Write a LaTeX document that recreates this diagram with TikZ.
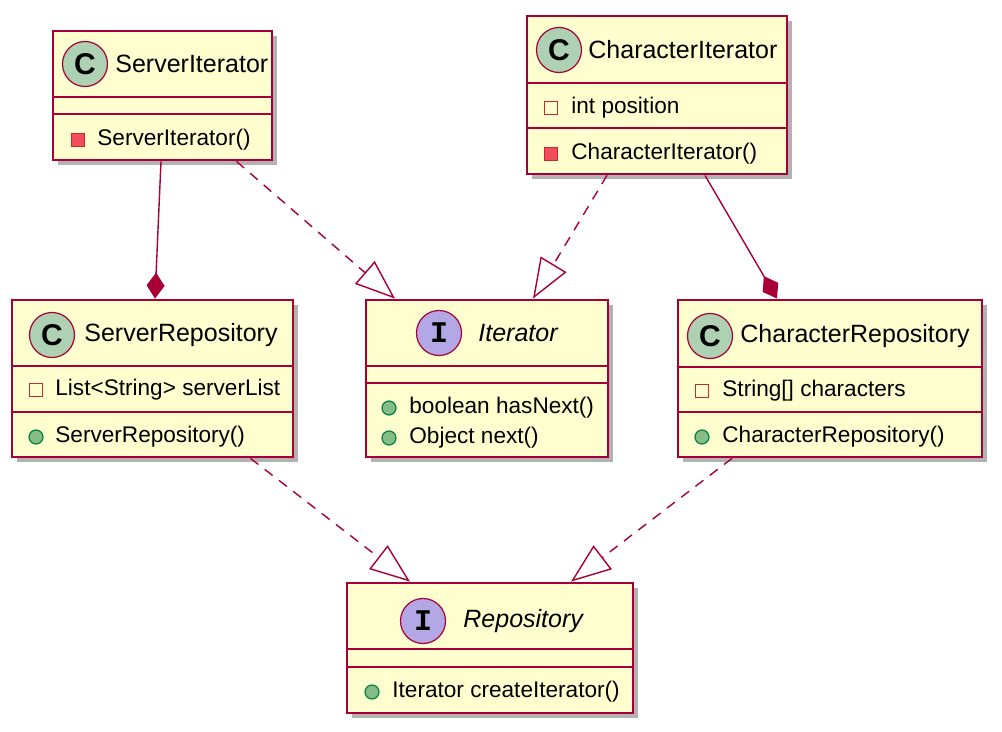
\documentclass[tikz,border=0pt]{standalone}
\usepackage{fontspec}
\setmainfont{Liberation Sans}
\newfontfamily\iconmono{Liberation Mono}
\usetikzlibrary{arrows.meta}
\usetikzlibrary{shadows}
\definecolor{umlborder}{HTML}{A80036}
\definecolor{umlfill}{HTML}{FEFECE}
\definecolor{classicon}{HTML}{ADD1B2}
\definecolor{ifaceicon}{HTML}{B4A7E5}
\definecolor{privline}{HTML}{C82930}
\definecolor{privfill}{HTML}{F24D5C}
\definecolor{publine}{HTML}{038048}
\definecolor{pubfill}{HTML}{84BE84}
\tikzset{
  classbox/.style={rectangle, draw=umlborder, fill=umlfill, line width=1.4pt, inner sep=0pt,
    drop shadow={shadow xshift=2.5pt, shadow yshift=-2.5pt, fill=black, opacity=0.3}},
  sepline/.style={umlborder, line width=1.4pt},
  cicon/.style={circle, draw=umlborder, fill=classicon, line width=0.6pt, minimum size=22.5pt,
    inner sep=0pt, font=\fontsize{15}{16}\selectfont\bfseries},
  iicon/.style={cicon, fill=ifaceicon, font=\fontsize{15}{16}\selectfont\iconmono\bfseries},
  title/.style={anchor=west, inner sep=0pt, font=\fontsize{12.5}{15}\selectfont},
  ititle/.style={title, font=\fontsize{12.5}{15}\selectfont\itshape},
  member/.style={anchor=west, inner sep=0pt, font=\fontsize{11.3}{13}\selectfont},
  privfield/.style={rectangle, draw=privline, fill=umlfill, line width=0.6pt, minimum size=6.5pt, inner sep=0pt},
  privmeth/.style={privfield, fill=privfill},
  pubmeth/.style={circle, draw=publine, fill=pubfill, line width=0.6pt, minimum size=7pt, inner sep=0pt},
  compose/.style={umlborder, line width=0.7pt, -{Diamond[length=13pt, width=9pt]}},
  realize/.style={umlborder, line width=0.7pt, dash pattern=on 5pt off 4pt,
    -{Triangle[open, length=20pt, width=15pt, fill=white]}}
}
\begin{document}
\begin{tikzpicture}[x=0.5pt, y=-0.5pt]
		\useasboundingbox (0,0) rectangle (1002,732);
		% class boxes
		\node[classbox, minimum width=109.5pt, minimum height=64.5pt] (srvIt) at (162.5,95.5) {};
		\node[classbox, minimum width=130pt, minimum height=79pt] (chrIt) at (657,95) {};
		\node[classbox, minimum width=140.5pt, minimum height=78.5pt] (srvRepo) at (152.5,378.5) {};
		\node[classbox, minimum width=121pt, minimum height=78.5pt] (iter) at (487,378.5) {};
		\node[classbox, minimum width=152pt, minimum height=78.5pt] (chrRepo) at (830,378.5) {};
		\node[classbox, minimum width=143pt, minimum height=65pt] (repo) at (490,648) {};
		% separators
		\draw[sepline] (srvIt.west |- 0,97) -- (srvIt.east |- 0,97);
		\draw[sepline] (srvIt.west |- 0,114) -- (srvIt.east |- 0,114);
		\draw[sepline] (chrIt.west |- 0,83) -- (chrIt.east |- 0,83);
		\draw[sepline] (chrIt.west |- 0,128) -- (chrIt.east |- 0,128);
		\draw[sepline] (srvRepo.west |- 0,366) -- (srvRepo.east |- 0,366);
		\draw[sepline] (srvRepo.west |- 0,412) -- (srvRepo.east |- 0,412);
		\draw[sepline] (iter.west |- 0,366) -- (iter.east |- 0,366);
		\draw[sepline] (iter.west |- 0,383) -- (iter.east |- 0,383);
		\draw[sepline] (chrRepo.west |- 0,367) -- (chrRepo.east |- 0,367);
		\draw[sepline] (chrRepo.west |- 0,412) -- (chrRepo.east |- 0,412);
		\draw[sepline] (repo.west |- 0,649) -- (repo.east |- 0,649);
		\draw[sepline] (repo.west |- 0,667) -- (repo.east |- 0,667);
		% headers
		\node[cicon] (srvItIcon) at (85,64) {C};
		\node[title] (srvItName) at (115,64) {ServerIterator};
		\node[cicon] (chrItIcon) at (559,50) {C};
		\node[title] (chrItName) at (588,50) {CharacterIterator};
		\node[cicon] (srvRepoIcon) at (52,335) {C};
		\node[title] (srvRepoName) at (84,335) {ServerRepository};
		\node[iicon] (iterIcon) at (439,333) {I};
		\node[ititle] (iterName) at (478,333) {Iterator};
		\node[cicon] (chrRepoIcon) at (710,336) {C};
		\node[title] (chrRepoName) at (740,336) {CharacterRepository};
		\node[iicon] (repoIcon) at (423,621) {I};
		\node[ititle] (repoName) at (463,621) {Repository};
		% members
		\node[privmeth] (srvItM1) at (78,140) {};
		\node[member] at (97,140) {ServerIterator()};
		\node[privfield] (chrItF1) at (551,108) {};
		\node[member] at (571,108) {int position};
		\node[privmeth] (chrItM1) at (551,154) {};
		\node[member] at (571,154) {CharacterIterator()};
		\node[privfield] (srvRepoF1) at (36,390) {};
		\node[member] at (55,390) {List<String> serverList};
		\node[pubmeth] (srvRepoM1) at (36,437) {};
		\node[member] at (55,437) {ServerRepository()};
		\node[pubmeth] (iterM1) at (389,408) {};
		\node[member] at (409,408) {boolean hasNext()};
		\node[pubmeth] (iterM2) at (389,438) {};
		\node[member] at (409,438) {Object next()};
		\node[privfield] (chrRepoF1) at (702,391) {};
		\node[member] at (722,391) {String[] characters};
		\node[pubmeth] (chrRepoM1) at (702,437) {};
		\node[member] at (722,437) {CharacterRepository()};
		\node[pubmeth] (repoM1) at (372,692) {};
		\node[member] at (392,692) {Iterator createIterator()};
		% relations
		\draw[compose] ([xshift=-0.75pt]srvIt.south) -- ([xshift=1.25pt]srvRepo.north);
		\draw[realize] ([xshift=37pt]srvIt.south) -- ([xshift=-46pt]iter.north);
		\draw[realize] ([xshift=-25pt]chrIt.south) -- ([xshift=23pt]iter.north);
		\draw[compose] ([xshift=24pt]chrIt.south) -- ([xshift=-26.5pt]chrRepo.north);
		\draw[realize] ([xshift=49pt]srvRepo.south) -- ([xshift=-40pt]repo.north);
		\draw[realize] ([xshift=-49pt]chrRepo.south) -- ([xshift=40.5pt]repo.north);
\end{tikzpicture}
\end{document}
